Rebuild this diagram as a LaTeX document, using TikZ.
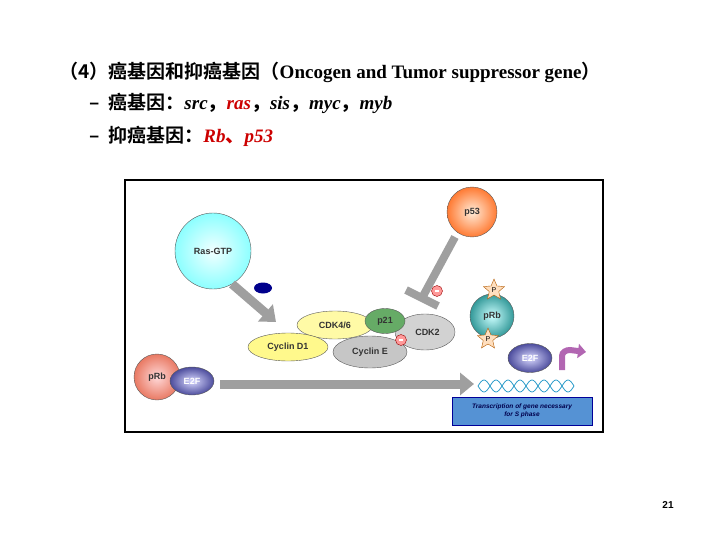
\documentclass[tikz,border=0pt]{standalone}
\usepackage{fontspec}
\setmainfont{Liberation Serif}
\newfontfamily\cjk{Noto Sans CJK SC}[BoldFont={* Bold}]
\newfontfamily\hv{Liberation Sans}
\usetikzlibrary{shapes.geometric,arrows.meta,calc}
\begin{document}
\begin{tikzpicture}[x=1pt,y=-1pt,
  ball/.style={circle,draw=gray!70!black,thin,font=\hv\bfseries\fontsize{9}{10}\selectfont,text=black!80},
  egg/.style={ellipse,draw=gray!70!black,thin,font=\hv\bfseries\fontsize{9}{10}\selectfont,inner sep=0pt,text=black!80},
  fat/.style={line width=9pt,draw=gray!75,-{Triangle[length=14pt,width=22pt]}},
  minus/.style={circle,draw=red!60!black,fill=red!40,minimum size=11pt,inner sep=0pt,
    path picture={\draw[white,line width=1.2pt] ([xshift=-2pt]path picture bounding box.center) -- ([xshift=2pt]path picture bounding box.center);}},
  pstar/.style={star,star points=5,star point ratio=2.2,draw=orange!70!black,fill=orange!25,minimum size=22pt,inner sep=0pt,font=\hv\fontsize{7}{7}\selectfont},
  title/.style={anchor=west,font=\bfseries\fontsize{19}{22}\selectfont}]
\useasboundingbox (0,0) rectangle (720,540);
\node[title] (t1) at (56,72) {{\cjk\bfseries （4）癌基因和抑癌基因（}Oncogen and Tumor suppressor gene{\cjk\bfseries ）}};
\node[title] (t2) at (86,103) {{\cjk\bfseries – \ 癌基因：}\itshape src{\cjk，}\textcolor{red!80!black}{ras}{\cjk，}sis{\cjk，}myc{\cjk，}myb};
\node[title] (t3) at (86,136) {{\cjk\bfseries – \ 抑癌基因：}\itshape\textcolor{red!80!black}{Rb{\cjk、}p53}};
\node[font=\hv\bfseries\fontsize{10}{11}\selectfont] (pg) at (668,505) {21};
\draw[line width=1.2pt] (125,180) rectangle (603,432);
% Ras
\node[ball,minimum size=76pt,shading=radial,inner color=cyan!5,outer color=cyan!45] (ras) at (213,251) {Ras-GTP};
\node[ellipse,fill=blue!55!black,minimum width=18pt,minimum height=11pt,inner sep=0pt] (dot) at (263,288) {};
\coordinate (ra1) at (232,284); \coordinate (ra2) at (276,322);
\draw[fat] (ra1) -- (ra2);
% p53
\node[ball,minimum size=50pt,shading=radial,inner color=orange!15,outer color=orange!70!red!80] (p53) at (472,212) {p53};
\coordinate (i1) at (455,237); \coordinate (i2) at (422,298);
\draw[line width=8pt,draw=gray!75] (i1) -- (i2);
\draw[line width=8pt,draw=gray!75] ($(i2)+(-16,-8)$) -- ($(i2)+(16,8)$);
\node[minus] (m1) at (437,291) {};
% Cyclin D1 / CDK4/6
\node[egg,fill=yellow!35,minimum width=76pt,minimum height=28pt] (cdk4) at (335,325) {CDK4/6};
\node[egg,fill=yellow!45,minimum width=80pt,minimum height=28pt] (cd1) at (288,347) {Cyclin D1};
% Cyclin E complex
\node[egg,fill=gray!35,minimum width=60pt,minimum height=36pt] (cdk2) at (425,332) {\ \ CDK2};
\node[egg,fill=gray!45,minimum width=74pt,minimum height=32pt] (cye) at (370,352) {Cyclin E};
\node[egg,fill=green!45!black!60,minimum width=40pt,minimum height=25pt] (p21) at (385,321) {p21};
\node[minus] (m2) at (401,340) {};
% pRb phosphorylated
\node[ball,minimum size=44pt,shading=radial,inner color=cyan!20,outer color=teal!80] (prb2) at (492,316) {pRb};
\node[pstar] (s1) at (494,290) {P};
\node[pstar] (s2) at (488,339) {P};
\node[egg,minimum width=44pt,minimum height=29pt,shading=radial,inner color=blue!15,outer color=blue!45!black!70,text=white] (e2f2) at (530,358) {E2F};
\draw[line width=6pt,violet!60,-{Triangle[length=8pt,width=14pt]}] (562,370) -- (562,356) to[out=90,in=180] (570,350) -- (586,352);
% DNA
\draw[cyan!60!teal,thick] (478,386) \foreach \i in {0,...,3}{ sin ++(6,-6) cos ++(6,6) sin ++(6,6) cos ++(6,-6)};
\draw[cyan!60!teal,thick] (478,386) \foreach \i in {0,...,3}{ sin ++(6,6) cos ++(6,-6) sin ++(6,-6) cos ++(6,6)};
\node[draw=blue!60!black,fill=cyan!55!blue!70,minimum width=140pt,minimum height=28pt,align=center,font=\hv\bfseries\itshape\fontsize{6.5}{8}\selectfont,text=blue!30!black] (box) at (522,411) {Transcription of gene necessary\\for S phase};
% pRb E2F
\node[ball,minimum size=46pt,shading=radial,inner color=red!15,outer color=red!50!brown!70] (prb) at (157,377) {pRb};
\node[egg,minimum width=44pt,minimum height=28pt,shading=radial,inner color=blue!15,outer color=blue!45!black!70,text=white] (e2f) at (192,381) {E2F};
\coordinate (a1) at (220,384); \coordinate (a2) at (474,384);
\draw[fat] (a1) -- (a2);
\end{tikzpicture}
\end{document}
